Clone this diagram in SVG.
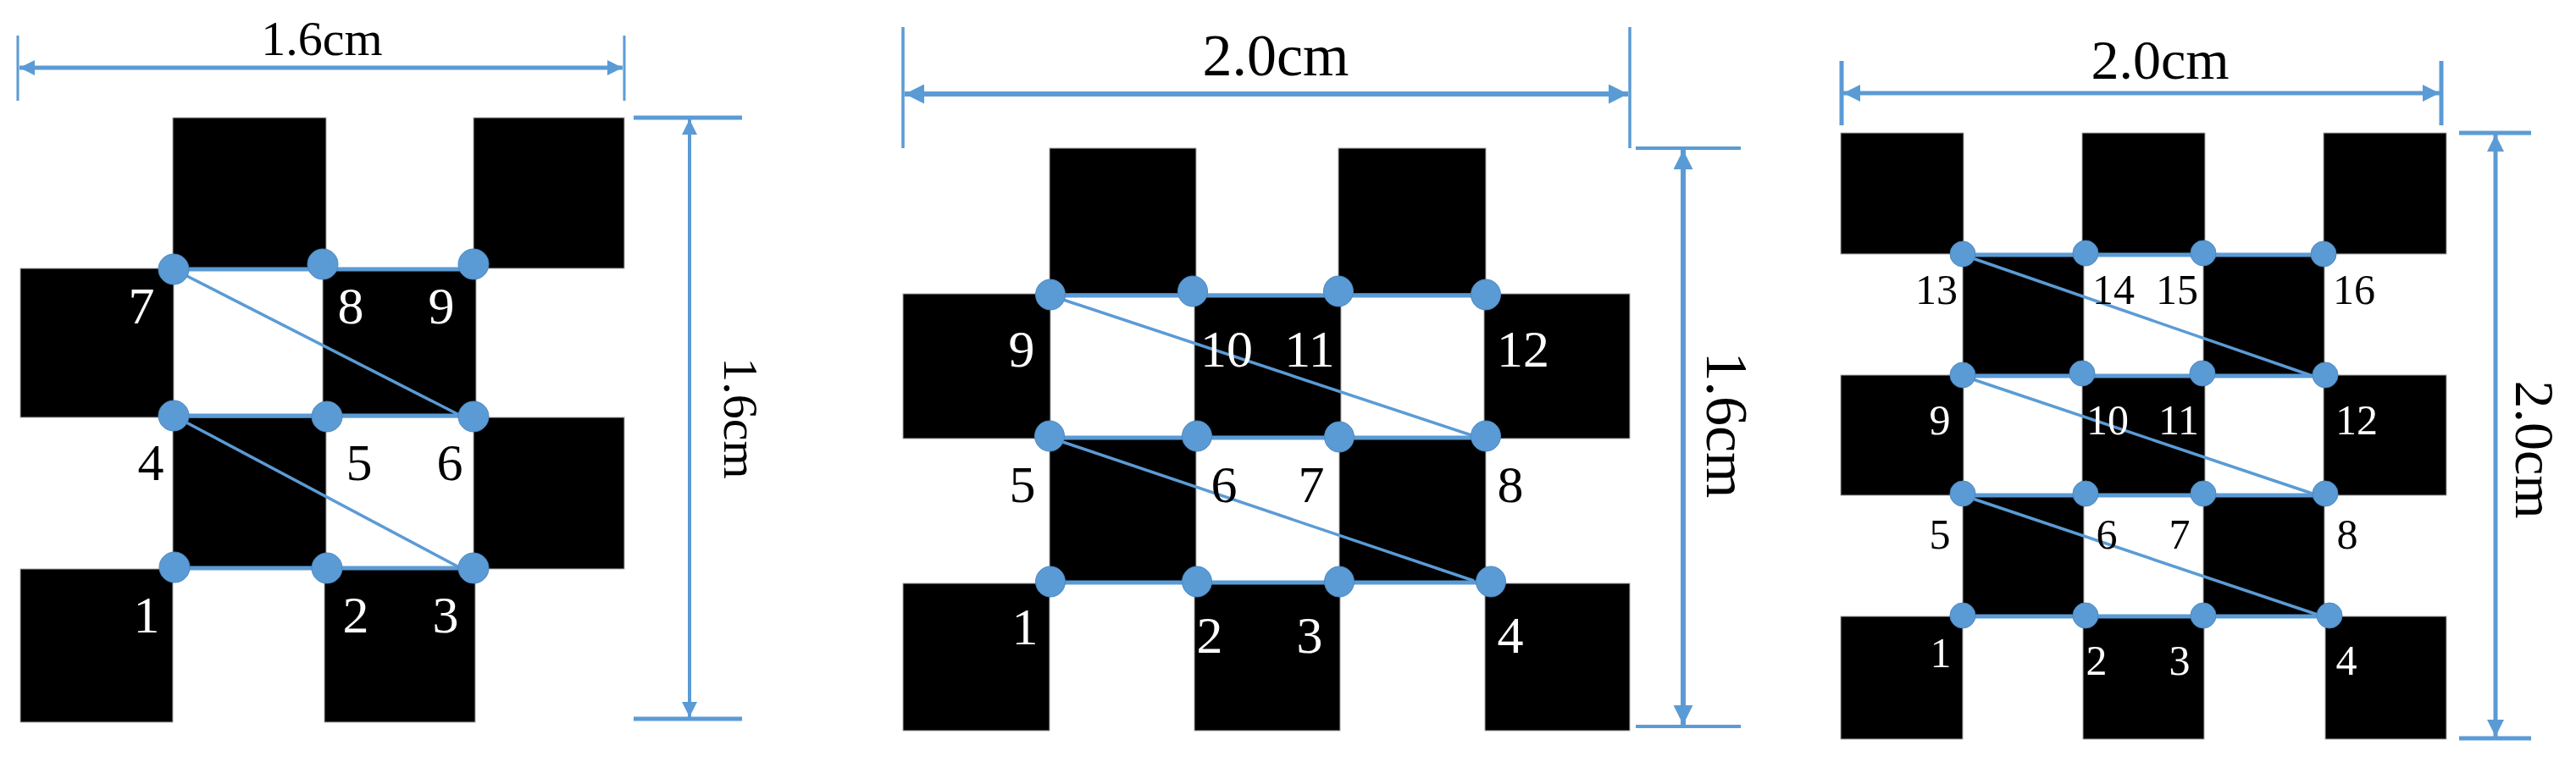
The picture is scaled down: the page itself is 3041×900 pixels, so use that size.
<svg xmlns="http://www.w3.org/2000/svg" width="3041" height="900" viewBox="0 0 3041 900">
<style>
text{font-family:"Liberation Serif","Times New Roman",serif;text-anchor:middle}
.sq{fill:#000;stroke:#aaa;stroke-width:1}
.dim{stroke:#5b9bd5;fill:none}
.h{stroke:#5b9bd5;stroke-width:5;fill:none}
.d{stroke:#5b9bd5;stroke-width:3.5;fill:none}
.dot{fill:#5b9bd5;stroke:#4a88c0;stroke-width:1}
.w{fill:#fff}.k{fill:#000}
.f1{font-size:62px}.f2{font-size:62px}.f3{font-size:50px}
.t1{font-size:58px}.t2{font-size:70px}.t3{font-size:66px}
</style>
<defs>
<marker id="a1" markerUnits="userSpaceOnUse" markerWidth="18" markerHeight="18" viewBox="0 0 10 10" refX="10" refY="5" orient="auto-start-reverse"><path d="M0 0L10 5L0 10Z" fill="#5b9bd5"/></marker>
<marker id="a2" markerUnits="userSpaceOnUse" markerWidth="23" markerHeight="23" viewBox="0 0 10 10" refX="10" refY="5" orient="auto-start-reverse"><path d="M0 0L10 5L0 10Z" fill="#5b9bd5"/></marker>
<marker id="a3" markerUnits="userSpaceOnUse" markerWidth="20" markerHeight="20" viewBox="0 0 10 10" refX="10" refY="5" orient="auto-start-reverse"><path d="M0 0L10 5L0 10Z" fill="#5b9bd5"/></marker>
</defs>

<g id="board-1">
<rect class="sq" x="204" y="139" width="181" height="178"/><rect class="sq" x="559" y="139" width="178" height="178"/>
<rect class="sq" x="24" y="317" width="181" height="176"/><rect class="sq" x="381" y="317" width="181" height="176"/>
<rect class="sq" x="204" y="493" width="181" height="179"/><rect class="sq" x="559" y="493" width="178" height="179"/>
<rect class="sq" x="24" y="672" width="180" height="181"/><rect class="sq" x="383" y="672" width="178" height="181"/>
</g>
<g id="board-2">
<rect class="sq" x="1239" y="175" width="173" height="172"/><rect class="sq" x="1580" y="175" width="174" height="172"/>
<rect class="sq" x="1066" y="347" width="174" height="171"/><rect class="sq" x="1410" y="347" width="173" height="171"/><rect class="sq" x="1752" y="347" width="172" height="171"/>
<rect class="sq" x="1239" y="518" width="173" height="171"/><rect class="sq" x="1581" y="518" width="173" height="171"/>
<rect class="sq" x="1066" y="689" width="173" height="174"/><rect class="sq" x="1410" y="689" width="172" height="174"/><rect class="sq" x="1753" y="689" width="171" height="174"/>
</g>
<g id="board-3">
<rect class="sq" x="2173" y="157" width="145" height="143"/><rect class="sq" x="2458" y="157" width="145" height="143"/><rect class="sq" x="2743" y="157" width="145" height="143"/>
<rect class="sq" x="2317" y="300" width="143" height="143"/><rect class="sq" x="2601" y="300" width="143" height="143"/>
<rect class="sq" x="2173" y="443" width="145" height="142"/><rect class="sq" x="2458" y="443" width="145" height="142"/><rect class="sq" x="2743" y="443" width="145" height="142"/>
<rect class="sq" x="2317" y="585" width="143" height="143"/><rect class="sq" x="2601" y="585" width="143" height="143"/>
<rect class="sq" x="2173" y="728" width="144" height="145"/><rect class="sq" x="2459" y="728" width="143" height="145"/><rect class="sq" x="2745" y="728" width="143" height="145"/>
</g>

<g id="connectors">
<path class="h" d="M205 318H559M205 491H559M206 671H559"/>
<path class="d" d="M205 318L542 490M205 491L542 670"/>
<path class="h" d="M1240 349H1754M1239 517H1754M1240 688H1760"/>
<path class="d" d="M1240 349L1737 514M1240 517L1740 686"/>
<path class="h" d="M2317 301H2743M2317 444H2745M2317 585H2745M2317 728H2750"/>
<path class="d" d="M2317 301L2727 443M2317 444L2730 583M2317 585L2736 726"/>
</g>

<g id="dimensions">
<g id="dim-1-w">
<path class="dim" stroke-width="3" d="M21 42V119M737 42V119"/>
<path class="dim" stroke-width="5" marker-start="url(#a1)" marker-end="url(#a1)" d="M23 80H735"/>
<text class="t1" x="380" y="65">1.6cm</text>
</g>
<g id="dim-1-h">
<path class="dim" stroke-width="5" d="M748 139H876M748 849H876"/>
<path class="dim" stroke-width="4" marker-start="url(#a1)" marker-end="url(#a1)" d="M814 141V847"/>
<text class="t1" transform="translate(855 494) rotate(90)">1.6cm</text>
</g>
<g id="dim-2-w">
<path class="dim" stroke-width="3.5" d="M1066 32V175M1924 32V175"/>
<path class="dim" stroke-width="6" marker-start="url(#a2)" marker-end="url(#a2)" d="M1068 111H1922"/>
<text class="t2" x="1506" y="89">2.0cm</text>
</g>
<g id="dim-2-h">
<path class="dim" stroke-width="4" d="M1931 175H2055M1931 858H2055"/>
<path class="dim" stroke-width="6" marker-start="url(#a2)" marker-end="url(#a2)" d="M1987 177V856"/>
<text class="t2" transform="translate(2015 502) rotate(90)">1.6cm</text>
</g>
<g id="dim-3-w">
<path class="dim" stroke-width="5" d="M2174 72V148M2882 72V148"/>
<path class="dim" stroke-width="5" marker-start="url(#a3)" marker-end="url(#a3)" d="M2176 110H2880"/>
<text class="t3" x="2550" y="93">2.0cm</text>
</g>
<g id="dim-3-h">
<path class="dim" stroke-width="5" d="M2903 157H2988M2903 872H2988"/>
<path class="dim" stroke-width="5" marker-start="url(#a3)" marker-end="url(#a3)" d="M2946 159V870"/>
<text class="t3" transform="translate(2970 531) rotate(90)">2.0cm</text>
</g>
</g>

<g id="p1-n1"><ellipse class="dot" cx="206" cy="670" rx="18" ry="18"/><text class="f1 w" x="173" y="747">1</text></g>
<g id="p1-n2"><ellipse class="dot" cx="386" cy="671" rx="18" ry="18"/><text class="f1 w" x="420" y="747">2</text></g>
<g id="p1-n3"><ellipse class="dot" cx="559" cy="671" rx="18" ry="18"/><text class="f1 w" x="526" y="747">3</text></g>
<g id="p1-n4"><ellipse class="dot" cx="205" cy="491" rx="18" ry="18"/><text class="f1 k" x="178" y="567">4</text></g>
<g id="p1-n5"><ellipse class="dot" cx="386" cy="492" rx="18" ry="18"/><text class="f1 k" x="424" y="567">5</text></g>
<g id="p1-n6"><ellipse class="dot" cx="559" cy="492" rx="18" ry="18"/><text class="f1 k" x="531" y="567">6</text></g>
<g id="p1-n7"><ellipse class="dot" cx="205" cy="318" rx="18" ry="18"/><text class="f1 w" x="167" y="382">7</text></g>
<g id="p1-n8"><ellipse class="dot" cx="381" cy="312" rx="18" ry="18"/><text class="f1 w" x="414" y="382">8</text></g>
<g id="p1-n9"><ellipse class="dot" cx="559" cy="312" rx="18" ry="18"/><text class="f1 w" x="521" y="382">9</text></g>

<g id="p2-n1"><ellipse class="dot" cx="1240" cy="687" rx="17.5" ry="18"/><text class="f2 w" x="1210" y="761">1</text></g>
<g id="p2-n2"><ellipse class="dot" cx="1413" cy="687" rx="17.5" ry="18"/><text class="f2 w" x="1428" y="771">2</text></g>
<g id="p2-n3"><ellipse class="dot" cx="1581" cy="687" rx="17.5" ry="18"/><text class="f2 w" x="1546" y="771">3</text></g>
<g id="p2-n4"><ellipse class="dot" cx="1760" cy="687" rx="17.5" ry="18"/><text class="f2 w" x="1783" y="771">4</text></g>
<g id="p2-n5"><ellipse class="dot" cx="1239" cy="515" rx="17.5" ry="18"/><text class="f2 k" x="1207" y="593">5</text></g>
<g id="p2-n6"><ellipse class="dot" cx="1413" cy="515" rx="17.5" ry="18"/><text class="f2 k" x="1445" y="593">6</text></g>
<g id="p2-n7"><ellipse class="dot" cx="1581" cy="516" rx="17.5" ry="18"/><text class="f2 k" x="1548" y="593">7</text></g>
<g id="p2-n8"><ellipse class="dot" cx="1754" cy="515" rx="17.5" ry="18"/><text class="f2 k" x="1783" y="593">8</text></g>
<g id="p2-n9"><ellipse class="dot" cx="1240" cy="348" rx="17.5" ry="18"/><text class="f2 w" x="1206" y="433">9</text></g>
<g id="p2-n10"><ellipse class="dot" cx="1408" cy="344" rx="17.5" ry="18"/><text class="f2 w" x="1448" y="433">10</text></g>
<g id="p2-n11"><ellipse class="dot" cx="1580" cy="344" rx="17.5" ry="18"/><text class="f2 w" x="1546" y="433">11</text></g>
<g id="p2-n12"><ellipse class="dot" cx="1754" cy="348" rx="17.5" ry="18"/><text class="f2 w" x="1798" y="433">12</text></g>

<g id="p3-n1"><ellipse class="dot" cx="2317" cy="727" rx="15" ry="15"/><text class="f3 w" x="2291" y="788">1</text></g>
<g id="p3-n2"><ellipse class="dot" cx="2462" cy="727" rx="15" ry="15"/><text class="f3 w" x="2475" y="797">2</text></g>
<g id="p3-n3"><ellipse class="dot" cx="2601" cy="727" rx="15" ry="15"/><text class="f3 w" x="2573" y="797">3</text></g>
<g id="p3-n4"><ellipse class="dot" cx="2750" cy="727" rx="15" ry="15"/><text class="f3 w" x="2770" y="797">4</text></g>
<g id="p3-n5"><ellipse class="dot" cx="2317" cy="583" rx="15" ry="15"/><text class="f3 k" x="2290" y="648">5</text></g>
<g id="p3-n6"><ellipse class="dot" cx="2462" cy="583" rx="15" ry="15"/><text class="f3 k" x="2487" y="648">6</text></g>
<g id="p3-n7"><ellipse class="dot" cx="2601" cy="583" rx="15" ry="15"/><text class="f3 k" x="2573" y="648">7</text></g>
<g id="p3-n8"><ellipse class="dot" cx="2745" cy="583" rx="15" ry="15"/><text class="f3 k" x="2771" y="648">8</text></g>
<g id="p3-n9"><ellipse class="dot" cx="2317" cy="443" rx="15" ry="15"/><text class="f3 w" x="2290" y="513">9</text></g>
<g id="p3-n10"><ellipse class="dot" cx="2458" cy="441" rx="15" ry="15"/><text class="f3 w" x="2488" y="513">10</text></g>
<g id="p3-n11"><ellipse class="dot" cx="2600" cy="441" rx="15" ry="15"/><text class="f3 w" x="2572" y="513">11</text></g>
<g id="p3-n12"><ellipse class="dot" cx="2745" cy="443" rx="15" ry="15"/><text class="f3 w" x="2782" y="513">12</text></g>
<g id="p3-n13"><ellipse class="dot" cx="2317" cy="300" rx="15" ry="15"/><text class="f3 k" x="2286" y="359">13</text></g>
<g id="p3-n14"><ellipse class="dot" cx="2462" cy="299" rx="15" ry="15"/><text class="f3 k" x="2495" y="359">14</text></g>
<g id="p3-n15"><ellipse class="dot" cx="2601" cy="299" rx="15" ry="15"/><text class="f3 k" x="2570" y="359">15</text></g>
<g id="p3-n16"><ellipse class="dot" cx="2743" cy="300" rx="15" ry="15"/><text class="f3 k" x="2779" y="359">16</text></g>
</svg>
